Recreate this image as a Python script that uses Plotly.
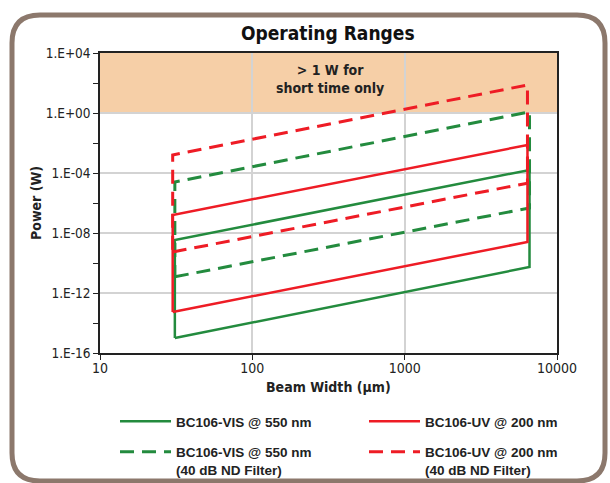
import plotly.graph_objects as go

# ---- data ----
vis_width = [31, 6600]          # beam width range (um), BC106-VIS
vis_low = [1.0e-15, 5.4e-11]     # min power (W)
vis_high = [3.4e-9, 1.6e-4]      # max power (W)
vis_nd_low = [1.2e-11, 4.7e-7]
vis_nd_high = [2.5e-5, 1.2]

uv_width = [30, 6400]           # beam width range (um), BC106-UV
uv_low = [5.4e-14, 2.5e-9]
uv_high = [1.6e-7, 7.4e-3]
uv_nd_low = [5.4e-10, 2.1e-5]
uv_nd_high = [1.6e-3, 74]

series_names = [
    "BC106-VIS @ 550 nm",
    "BC106-VIS @ 550 nm<br>(40 dB ND Filter)",
    "BC106-UV @ 200 nm",
    "BC106-UV @ 200 nm<br>(40 dB ND Filter)",
]
y_tick_vals = [1e4, 1e0, 1e-4, 1e-8, 1e-12, 1e-16]
y_tick_text = ["1.E+04", "1.E+00", "1.E-04", "1.E-08", "1.E-12", "1.E-16"]
y_minor_vals = [1e2, 1e-2, 1e-6, 1e-10, 1e-14]
x_tick_vals = [10, 100, 1000, 10000]
x_tick_text = ["10", "100", "1000", "10000"]

GREEN = "#238B3E"
RED = "#EE1C25"
NARROW = "Liberation Sans Narrow, DejaVu Sans Condensed, Arial Narrow, sans-serif"
ARIAL = "Liberation Sans, Arial, sans-serif"

W, H = 610, 483
L, R, T, B = 100, 53, 53, 130
PW, PH = W - L - R, H - T - B


def px(xp):
    return (xp - L) / PW


def py(yp):
    return (H - B - yp) / PH


def box(w, lo, hi):
    return [w[0], w[1], w[1], w[0], w[0]], [lo[0], lo[1], hi[1], hi[0], lo[0]]


fig = go.Figure()
specs = [
    (vis_width, vis_low, vis_high, GREEN, "solid", 2.5, "legend"),
    (vis_width, vis_nd_low, vis_nd_high, GREEN, "14px,8px", 3, "legend"),
    (uv_width, uv_low, uv_high, RED, "solid", 2.5, "legend2"),
    (uv_width, uv_nd_low, uv_nd_high, RED, "14px,8px", 3, "legend2"),
]
for i, (name, (w, lo, hi, col, dash, lw, lg)) in enumerate(zip(series_names, specs)):
    xs, ys = box(w, lo, hi)
    fig.add_trace(go.Scatter(x=xs, y=ys, mode="lines", name=name, legend=lg,
                             legendgroup=f"g{i}",
                             line=dict(color=col, width=lw, dash=dash)))

# rounded frame
fl, fr, ft, fb, rad = 12, 605, 15, 481, 28
path = (
    f"M {px(fl)},{py(ft + rad)} Q {px(fl)},{py(ft)} {px(fl + rad)},{py(ft)} "
    f"L {px(fr - rad)},{py(ft)} Q {px(fr)},{py(ft)} {px(fr)},{py(ft + rad)} "
    f"L {px(fr)},{py(fb - rad)} Q {px(fr)},{py(fb)} {px(fr - rad)},{py(fb)} "
    f"L {px(fl + rad)},{py(fb)} Q {px(fl)},{py(fb)} {px(fl)},{py(fb - rad)} Z"
)
fig.add_shape(type="path", path=path, xref="paper", yref="paper",
              line=dict(color="#8C786C", width=5), layer="above")

# high-power band
fig.add_shape(type="rect", xref="paper", yref="y", x0=0, x1=1, y0=1, y1=1e4,
              fillcolor="#F6CFA7", line=dict(width=0), layer="below")

ann = dict(xref="paper", yref="paper", showarrow=False, xanchor="center", yanchor="middle")
fig.add_annotation(text="<b>Operating Ranges</b>", x=px(328), y=py(33),
                   font=dict(family=NARROW, size=19, color="#111"), **ann)
fig.add_annotation(text="<b>&gt; 1 W for<br>short time only</b>", x=px(330), y=py(79),
                   font=dict(family=NARROW, size=14, color="#222"), **ann)
fig.add_annotation(text="<b>Power (W)</b>", x=px(36), y=py(203), textangle=-90,
                   font=dict(family=NARROW, size=14, color="#222"), **ann)
fig.add_annotation(text="<b>Beam Width (µm)</b>", x=px(328), y=py(387),
                   font=dict(family=NARROW, size=14, color="#222"), **ann)

legend_common = dict(orientation="v", xanchor="left", yanchor="top",
                     valign="top", traceorder="grouped", tracegroupgap=10,
                     font=dict(family=ARIAL, size=13.5, color="#222", weight="bold"),
                     bgcolor="rgba(0,0,0,0)", itemwidth=51)

fig.update_layout(
    width=W, height=H,
    margin=dict(l=L, r=R, t=T, b=B, autoexpand=False),
    paper_bgcolor="white", plot_bgcolor="white",
    showlegend=True,
    legend=dict(x=px(115), y=py(406), **legend_common),
    legend2=dict(x=px(364), y=py(406), **legend_common),
    xaxis=dict(type="log", range=[1, 4], tickvals=x_tick_vals, ticktext=x_tick_text,
               showgrid=True, gridcolor="#D3D3D3", gridwidth=1.5,
               showline=True, linecolor="#222", linewidth=1.5, mirror=True,
               ticks="outside", ticklen=5, tickcolor="#222", ticklabelstandoff=-4,
               tickfont=dict(family=NARROW, size=14, color="#222"), zeroline=False),
    yaxis=dict(type="log", range=[-16, 4], tickvals=y_tick_vals, ticktext=y_tick_text,
               showgrid=True, gridcolor="#D3D3D3", gridwidth=1.5,
               showline=True, linecolor="#222", linewidth=1.5, mirror=True,
               ticks="outside", ticklen=5, tickcolor="#222",
               tickfont=dict(family=NARROW, size=13.5, color="#222"), zeroline=False,
               minor=dict(tickmode="array", tickvals=y_minor_vals, ticks="outside",
                          ticklen=5, tickcolor="#222", showgrid=False)),
)

fig.write_html("out.html", post_script="document.body.style.margin='0px';",
               config={"displayModeBar": False})
